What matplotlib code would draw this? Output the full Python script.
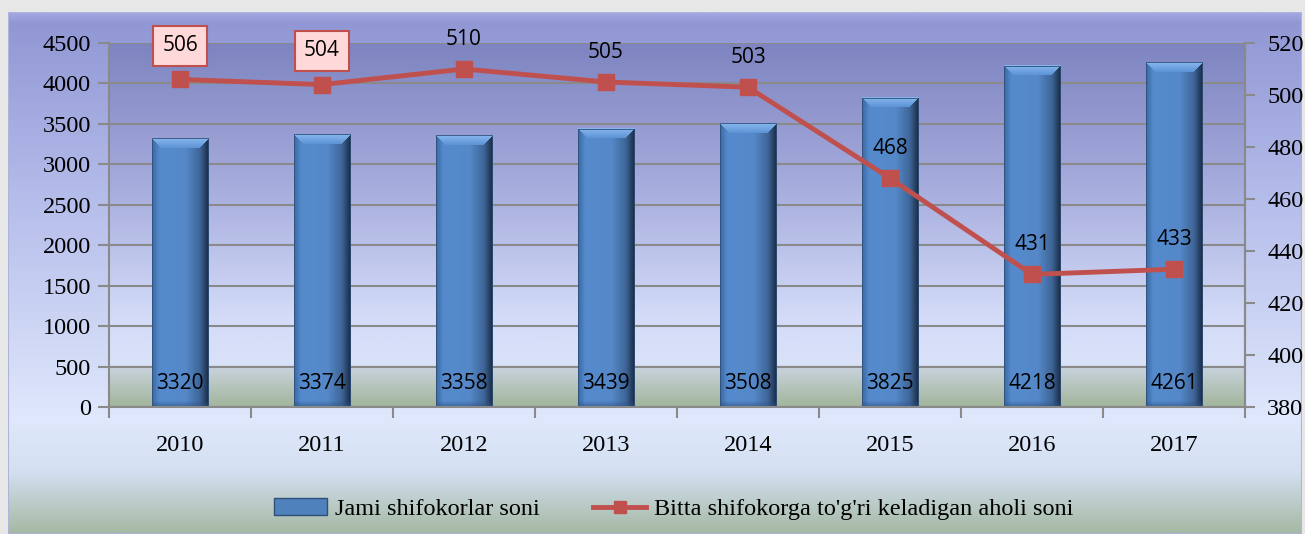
import numpy as np
import matplotlib
matplotlib.use("Agg")
import matplotlib.pyplot as plt
from matplotlib.colors import LinearSegmentedColormap, to_rgba
from matplotlib.patches import Rectangle
from matplotlib.lines import Line2D

plt.rcParams["font.family"] = ["Liberation Serif", "DejaVu Serif"]

years = ["2010", "2011", "2012", "2013", "2014", "2015", "2016", "2017"]
doctors = [3320, 3374, 3358, 3439, 3508, 3825, 4218, 4261]
per_doctor = [506, 504, 510, 505, 503, 468, 431, 433]
boxed_years = ["2010", "2011"]
bar_label = "Jami shifokorlar soni"
line_label = "Bitta shifokorga to'g'ri keladigan aholi soni"

W, H = 1305, 534
fig = plt.figure(figsize=(W / 100, H / 100), dpi=100)
fig.patch.set_facecolor("#e7e7e7")

def vgrad(stops, n=512):
    cm = LinearSegmentedColormap.from_list("g", stops)
    return cm(np.linspace(0, 1, n))[:, None, :]

# outer chart frame with gradient
fx0, fx1, fy0, fy1 = 8 / W, 1302 / W, 0.0, 1 - 12 / H
frame = fig.add_axes([fx0, fy0, fx1 - fx0, fy1 - fy0])
frame.set_axis_off()
frame_stops = [(0.0, "#a3a8e2"), (0.02, "#9197d4"), (0.35, "#b4bcea"),
               (0.78, "#dfe8fc"), (0.88, "#d4e0f2"), (1.0, "#a5b9a3")]
frame.imshow(vgrad(frame_stops), aspect="auto", extent=[0, 1, 0, 1],
             transform=frame.transAxes)
frame.add_patch(Rectangle((0, 0), 1, 1, transform=frame.transAxes, fill=False,
                          ec="#b0b4d8", lw=1.5))
frame.set_xlim(0, 1); frame.set_ylim(0, 1)

# main axes
L, R, T, B = 109, 1245, 43, 407
ax = fig.add_axes([L / W, (H - B) / H, (R - L) / W, (B - T) / H])
ax.set_facecolor("none")
plot_stops = [(0.0, "#7e84c0"), (0.4, "#a7addd"), (0.75, "#d3dbf8"),
              (0.885, "#d9e2f8"), (0.89, "#cad4de"), (1.0, "#a2b59c")]
ax.imshow(vgrad(plot_stops), aspect="auto", extent=[0, 1, 0, 1],
          transform=ax.transAxes, zorder=0)

x = np.arange(len(years))
ymax = 4500
ax.set_xlim(-0.5, len(years) - 0.5)
ax.set_ylim(0, ymax)
ax.set_yticks(np.arange(0, 4501, 500))
ax.yaxis.grid(True, color="#8a8a8a", lw=1.5, zorder=1)
ax.set_axisbelow(True)

bar_w = 0.4
bars = ax.bar(x, doctors, width=bar_w, color="#5589c9", zorder=2, label=bar_label)
hgrad = LinearSegmentedColormap.from_list(
    "h", [(0, "#3d6aa3"), (0.12, "#548bcd"), (0.6, "#5588c8"),
          (0.85, "#3e6597"), (1.0, "#1b2c44")])
pw = int(round(bar_w * (R - L) / len(years)))
row = hgrad(np.linspace(0, 1, pw))
cap_top = np.array(to_rgba("#86b6ee"))
cap_bot = np.array(to_rgba("#5f95d6"))
base_col = np.array(to_rgba("#2e5283"))
bev = 10
for b in bars:
    bx, by, bw, bh = b.get_x(), b.get_y(), b.get_width(), b.get_height()
    ph = int(round(bh / ymax * (B - T)))
    img = np.repeat(row[None, :, :], ph, axis=0)
    for r in range(bev):
        t = r / (bev - 1)
        c = cap_top * (1 - t) + cap_bot * t
        img[r, r:pw - r] = c
    for r in range(6):
        a = (6 - r) / 6 * 0.6
        img[ph - 1 - r] = img[ph - 1 - r] * (1 - a) + base_col * a
    ax.imshow(img, aspect="auto", extent=[bx, bx + bw, by, by + bh],
              zorder=2.1, interpolation="bilinear")
    ax.add_patch(Rectangle((bx, by), bw, bh, fill=False, ec="#2f4f78", lw=0.6, zorder=2.2))
ax.set_xlim(-0.5, len(years) - 0.5)
ax.set_ylim(0, ymax)

for xi, v in zip(x, doctors):
    ax.annotate(str(v), (xi, 0), xytext=(0, 17), textcoords="offset points",
                ha="center", va="center", fontsize=15, family="Open Sans",
                color="black", zorder=5)

ax.spines["top"].set_visible(False)
for s in ["left", "bottom", "right"]:
    ax.spines[s].set_color("#8a8a8a")
    ax.spines[s].set_linewidth(1.5)

ax.set_xticks(np.arange(-0.5, len(years)), minor=False)
ax.set_xticklabels([])
ax.set_xticks(x, minor=True)
ax.set_xticklabels(years, minor=True)
ax.tick_params(axis="x", which="major", length=8, width=1.5, color="#8a8a8a")
ax.tick_params(axis="x", which="minor", length=0, pad=20, labelsize=17.5)
ax.tick_params(axis="y", length=8, width=1.5, color="#8a8a8a", labelsize=17.5, pad=5)

ax2 = ax.twinx()
ax2.set_ylim(380, 520)
ax2.set_yticks(np.arange(380, 521, 20))
ax2.plot(x, per_doctor, color="#c0504d", lw=3.5, marker="s", ms=11,
         mec="#c0504d", mfc="#c0504d", zorder=4, label=line_label)
for s in ["top", "left", "bottom"]:
    ax2.spines[s].set_visible(False)
ax2.spines["right"].set_color("#8a8a8a")
ax2.spines["right"].set_linewidth(1.5)
ax2.tick_params(axis="y", length=7, width=1.5, color="#8a8a8a", labelsize=17.5, pad=9)
for lab in ax.get_yticklabels() + ax2.get_yticklabels():
    lab.set_fontfamily("Liberation Serif")

for xi, yr, v in zip(x, years, per_doctor):
    kw = dict(xytext=(0, 23), textcoords="offset points", ha="center",
              va="center_baseline", fontsize=15, family="Open Sans",
              color="black", zorder=6)
    if yr in boxed_years:
        kw["xytext"] = (0, 26)
        kw["bbox"] = dict(boxstyle="square,pad=0.45", fc="#ffd9d9", ec="#c0504d", lw=1.5)
    ax2.annotate(str(v), (xi, v), **kw)

h1 = Rectangle((0, 0), 1, 1, fc="#4f81bd", ec="#2f4f78")
h2 = Line2D([], [], color="#c0504d", lw=3.5, marker="s", ms=9)
leg = fig.legend([h1, h2], [bar_label, line_label], loc="center",
                 bbox_to_anchor=(0.516, 25 / H), ncol=2, frameon=False,
                 prop={"family": "Liberation Serif", "size": 17.5},
                 handlelength=2.2, handletextpad=0.3, columnspacing=2.2)

fig.savefig("out.png", dpi=100, facecolor=fig.get_facecolor())
